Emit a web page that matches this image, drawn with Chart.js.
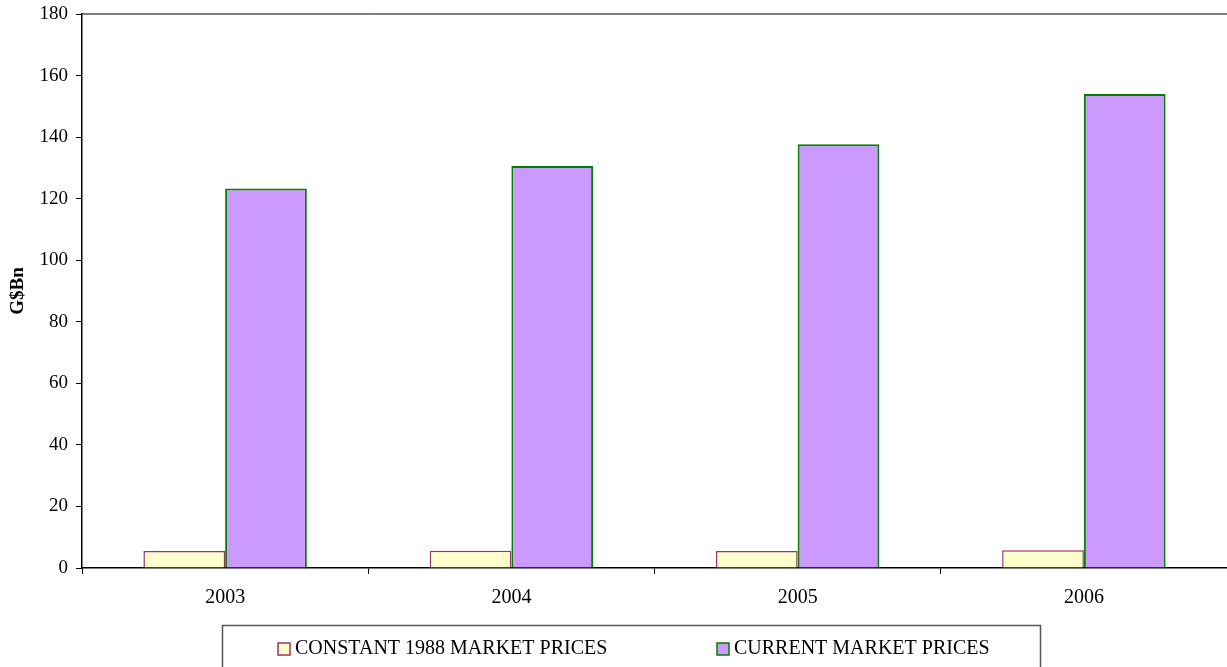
<!DOCTYPE html>
<html>
<head>
<meta charset="utf-8">
<script src="https://cdn.jsdelivr.net/npm/chart.js@4/dist/chart.umd.min.js"></script>
<style>
  html, body { margin: 0; padding: 0; background: #ffffff; overflow: hidden; }
  #wrap { width: 1227px; height: 667px; position: relative; }
</style>
</head>
<body>
<div id="wrap"><canvas id="gdpChart"></canvas></div>
<script>
// Chart values
const years = ['2003', '2004', '2005', '2006'];
const constantPrices = [5.5, 5.6, 5.5, 5.8];
const currentPrices = [123.3, 130.6, 137.7, 154.0];
const yTicks = [0, 20, 40, 60, 80, 100, 120, 140, 160, 180];

const FONT = '"Liberation Serif", "Times New Roman", serif';

// Plot frame: top line + boxed legend under the axis
const framePlugin = {
    id: 'frame',
    afterDraw(chart) {
        const ctx = chart.ctx;
        const area = chart.chartArea;
        ctx.save();
        ctx.strokeStyle = '#000000';
        ctx.lineWidth = 1;
        ctx.beginPath();
        ctx.moveTo(area.left, area.top);
        ctx.lineTo(area.right + 10, area.top);
        ctx.stroke();

        // legend box
        ctx.strokeStyle = '#555555';
        ctx.lineWidth = 1.5;
        ctx.strokeRect(222.5, 625.5, 818, 60);

        const items = chart.data.datasets;
        const xs = [278, 717];
        ctx.font = '20px ' + FONT;
        ctx.textBaseline = 'middle';
        items.forEach((ds, i) => {
            const x = xs[i];
            const y = 649;
            ctx.fillStyle = ds.backgroundColor;
            ctx.fillRect(x, y - 6, 12, 12);
            ctx.strokeStyle = ds.borderColor;
            ctx.lineWidth = 1.5;
            ctx.strokeRect(x, y - 6, 12, 12);
            ctx.fillStyle = '#000000';
            ctx.fillText(ds.label, x + 17, y);
        });
        ctx.restore();
    }
};

new Chart(document.getElementById('gdpChart'), {
    type: 'bar',
    data: {
        labels: years,
        datasets: [
            {
                label: 'CONSTANT 1988 MARKET PRICES',
                data: constantPrices,
                backgroundColor: '#FFFFCC',
                borderColor: '#993366',
                borderWidth: 1.5,
                borderSkipped: 'bottom'
            },
            {
                label: 'CURRENT MARKET PRICES',
                data: currentPrices,
                backgroundColor: '#CC99FF',
                borderColor: '#008000',
                borderWidth: 2,
                borderSkipped: 'bottom'
            }
        ]
    },
    options: {
        responsive: true,
        maintainAspectRatio: false,
        animation: false,
        layout: {
            padding: { top: 14, right: 0, left: 0, bottom: 0 }
        },
        datasets: {
            bar: {
                categoryPercentage: 0.571,
                barPercentage: 1.0
            }
        },
        plugins: {
            legend: { display: false },
            tooltip: { enabled: false }
        },
        scales: {
            x: {
                offset: true,
                grid: {
                    display: true,
                    offset: true,
                    drawOnChartArea: false,
                    drawTicks: true,
                    tickLength: 6,
                    color: '#000000'
                },
                border: { display: true, color: '#000000', width: 1.5 },
                ticks: {
                    color: '#000000',
                    padding: 12,
                    font: { family: FONT, size: 20 }
                },
                afterFit: (scale) => {
                    scale.height = 99;
                    scale.paddingLeft = 0;
                    scale.paddingRight = 0;
                }
            },
            y: {
                min: 0,
                max: 180,
                afterBuildTicks: (scale) => {
                    scale.ticks = yTicks.map(v => ({ value: v }));
                },
                grid: {
                    display: true,
                    drawOnChartArea: false,
                    drawTicks: true,
                    tickLength: 6,
                    color: '#000000'
                },
                border: { display: true, color: '#000000', width: 1.5 },
                ticks: {
                    color: '#000000',
                    padding: 8,
                    font: { family: FONT, size: 19 }
                },
                title: {
                    display: true,
                    text: 'G$Bn',
                    color: '#000000',
                    padding: { top: 7, bottom: 6 },
                    font: { family: FONT, size: 19, weight: 'bold' }
                },
                afterFit: (scale) => {
                    scale.width = 82;
                    scale.paddingTop = 0;
                    scale.paddingBottom = 0;
                }
            }
        }
    },
    plugins: [framePlugin]
});
</script>
</body>
</html>
